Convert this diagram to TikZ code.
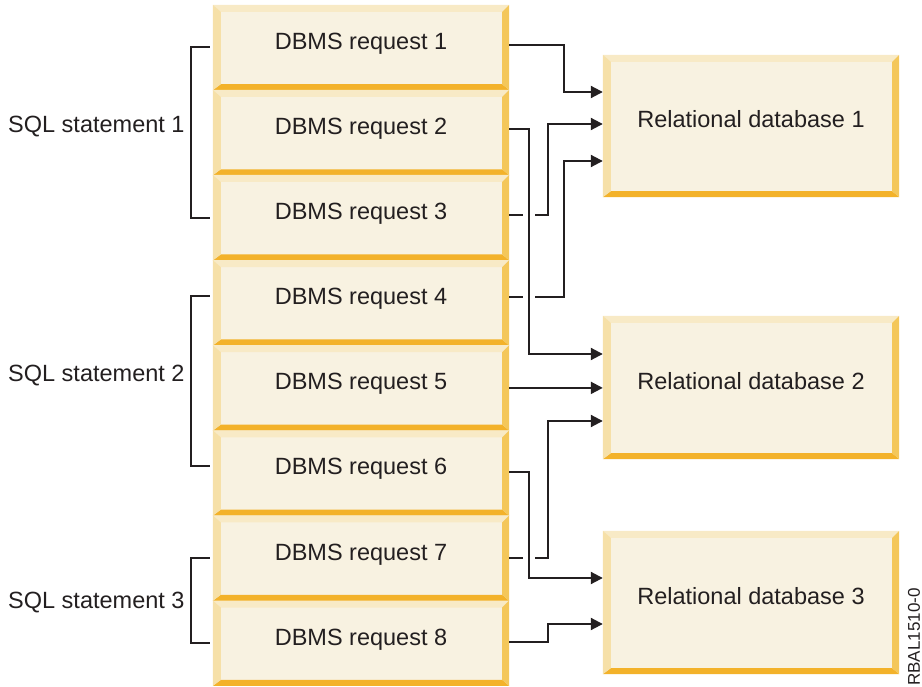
\documentclass[tikz,border=0pt]{standalone}
\usepackage{fontspec}
\setmainfont{Liberation Sans}
\usetikzlibrary{arrows.meta,calc}
\definecolor{face}{HTML}{F8F2E1}
\definecolor{bvtopc}{HTML}{F8EAC6}
\definecolor{bvleftc}{HTML}{F6E0A8}
\definecolor{bvrightc}{HTML}{F4C75A}
\definecolor{bvbotc}{HTML}{F3B22A}
\definecolor{ink}{HTML}{231F20}
\newcommand\bevelsof[1]{%
  \fill[bvtopc] (#1.north west) -- (#1.north east) -- ($(#1.north east)+(-7,7)$) -- ($(#1.north west)+(8,7)$) -- cycle;
  \fill[bvbotc] (#1.south west) -- (#1.south east) -- ($(#1.south east)+(-7,-6)$) -- ($(#1.south west)+(8,-6)$) -- cycle;
  \fill[bvleftc] (#1.north west) -- ($(#1.north west)+(8,7)$) -- ($(#1.south west)+(8,-6)$) -- (#1.south west) -- cycle;
  \fill[bvrightc] (#1.north east) -- ($(#1.north east)+(-7,7)$) -- ($(#1.south east)+(-7,-6)$) -- (#1.south east) -- cycle;
}
\begin{document}
\begin{tikzpicture}[x=1pt,y=-1pt,
  txt/.style={font=\fontsize{23.5}{28}\selectfont, text=ink},
  reqbox/.style={txt, fill=face, inner sep=0pt, minimum width=296pt, minimum height=85pt, text height=17pt, text depth=13.2pt},
  dbbox/.style={txt, fill=face, inner sep=0pt, minimum width=296pt, minimum height=143pt, text height=17pt, text depth=13.2pt},
  conn/.style={draw=ink, line width=2pt, -{Triangle[length=12pt,width=12pt]}},
  brk/.style={draw=ink, line width=2pt}]
\useasboundingbox (0,0) rectangle (922,687);
% request boxes
\foreach \k in {1,...,8}{
  \node[reqbox] (r\k) at (361,{47.5+85.1*(\k-1)}) {DBMS request \k};
}
\foreach \k in {1,...,8}{ \bevelsof{r\k} }
% database boxes
\node[dbbox, minimum height=142pt] (db1) at (751,126) {Relational database 1};
\node[dbbox] (db2) at (751,387.5) {Relational database 2};
\node[dbbox] (db3) at (751,602.5) {Relational database 3};
\bevelsof{db1}\bevelsof{db2}\bevelsof{db3}
% SQL labels and brackets
\node[txt, anchor=base west, inner sep=0pt] (sql1) at (8,132.5) {SQL statement 1};
\node[txt, anchor=base west, inner sep=0pt] (sql2) at (8,381.5) {SQL statement 2};
\node[txt, anchor=base west, inner sep=0pt] (sql3) at (8,608.5) {SQL statement 3};
\draw[brk] ($(r1.west)+(-3,0)$) -- ++(-19,0) |- ($(r3.west)+(-3,0)$);
\draw[brk] ($(r4.west)+(-3,-7)$) -- ++(-19,0) |- ($(r6.west)+(-3,-7)$);
\draw[brk] ($(r7.west)+(-3,0)$) -- ++(-19,0) |- ($(r8.west)+(-3,0)$);
% columns
\coordinate (cA) at (529,0);
\coordinate (cB) at (548,0);
\coordinate (cC) at (564,0);
% start points
\coordinate (s1) at ($(r1.east)+(0,-2.5)$);
\coordinate (s2) at ($(r2.east)+(0,-3.6)$);
\coordinate (s3) at ($(r3.east)+(0,-2.7)$);
\coordinate (s4) at ($(r4.east)+(0,-6)$);
\coordinate (s6) at ($(r6.east)+(0,-1)$);
\coordinate (s7) at ($(r7.east)+(0,0)$);
\coordinate (s8) at ($(r8.east)+(0,-1.6)$);
% end points
\coordinate (d1a) at ($(db1.west)+(0,-34)$);
\coordinate (d1b) at ($(db1.west)+(0,-2)$);
\coordinate (d1c) at ($(db1.west)+(0,35)$);
\coordinate (d2a) at ($(db2.west)+(0,-33.5)$);
\coordinate (d2c) at ($(db2.west)+(0,33.5)$);
\coordinate (d3a) at ($(db3.west)+(0,-24.5)$);
\coordinate (d3b) at ($(db3.west)+(0,21.5)$);
% connectors
\draw[conn] (s1) -- (s1 -| cC) -- (cC |- d1a) -- (d1a);
\draw[conn] (s2) -- (s2 -| cA) -- (cA |- d2a) -- (d2a);
\draw[conn] (s3) -- ++(14,0) ++(12,0) -- (s3 -| cB) -- (cB |- d1b) -- (d1b);
\draw[conn] (s4) -- ++(14,0) ++(12,0) -- (s4 -| cC) -- (cC |- d1c) -- (d1c);
\draw[conn] (r5.east) -- (r5.east -| db2.west);
\draw[conn] (s6) -- (s6 -| cA) -- (cA |- d3a) -- (d3a);
\draw[conn] (s7) -- ++(14,0) ++(12,0) -- (s7 -| cB) -- (cB |- d2c) -- (d2c);
\draw[conn] (s8) -- (s8 -| cB) -- (cB |- d3b) -- (d3b);
% figure id
\node[rotate=90, font=\fontsize{17}{20}\selectfont, text=ink, inner sep=0pt] (rbal) at (914,637) {RBAL1510-0};
\end{tikzpicture}
\end{document}
